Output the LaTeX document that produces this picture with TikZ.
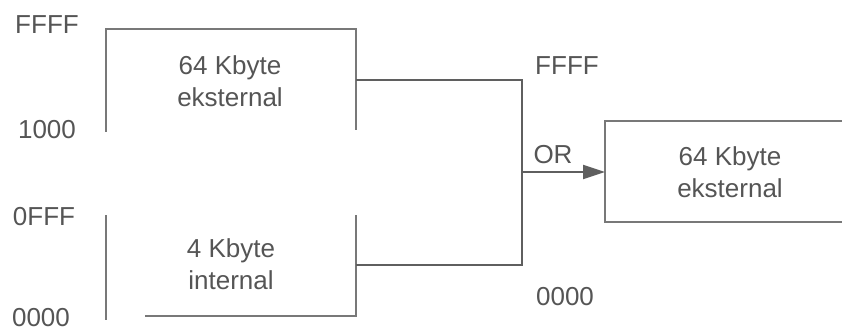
\documentclass[tikz,border=0pt]{standalone}
\usepackage{fontspec}
\setmainfont{Liberation Sans}
\usetikzlibrary{arrows.meta}
\definecolor{txt}{RGB}{85,85,85}
\definecolor{ln}{RGB}{95,95,95}
\definecolor{bx}{RGB}{120,120,120}
\tikzset{
  lbl/.style={text=txt,font=\fontsize{26}{32}\selectfont,inner sep=0pt},
  box/.style={draw=bx,line width=1.3pt},
  wire/.style={draw=ln,line width=1.8pt},
}
\begin{document}
\begin{tikzpicture}[x=1pt,y=-1pt]
\useasboundingbox (0,0) rectangle (842,331);
\clip (0,0) rectangle (842,331);
% top-left box (open bottom)
\draw[box] (106,132) -- (106,29) -- (356,29) -- (356,130);
% bottom-left box (open top)
\draw[box] (106,215) -- (106,320);
\draw[box] (356,215) -- (356,316) -- (145,316);
% right box
\draw[box] (860,121) -- (605,121) -- (605,222) -- (860,222);
% coordinates
\coordinate (t) at (356,80);
\coordinate (b) at (356,265);
\coordinate (jt) at (522,80);
\coordinate (jb) at (522,265);
\coordinate (jm) at (522,172);
\coordinate (r) at (605,172);
\draw[wire] (t) -- (jt) -- (jb) -- (b);
\draw[wire,-{Triangle[length=22pt,width=14pt]}] (jm) -- (r);
% labels
\node[lbl] (ffff1) at (47,25) {FFFF};
\node[lbl] (a1000) at (47,130) {1000};
\node[lbl] (a0fff) at (44,217) {0FFF};
\node[lbl] (a0000) at (41,318) {0000};
\node[lbl,align=center] (ext1) at (230,81) {64 Kbyte\\eksternal};
\node[lbl,align=center] (int) at (231,264) {4 Kbyte\\internal};
\node[lbl] (ffff2) at (567,66) {FFFF};
\node[lbl] (or) at (553,155) {OR};
\node[lbl] (b0000) at (565,297) {0000};
\node[lbl,align=center] (ext2) at (730,172) {64 Kbyte\\eksternal};
\end{tikzpicture}
\end{document}
